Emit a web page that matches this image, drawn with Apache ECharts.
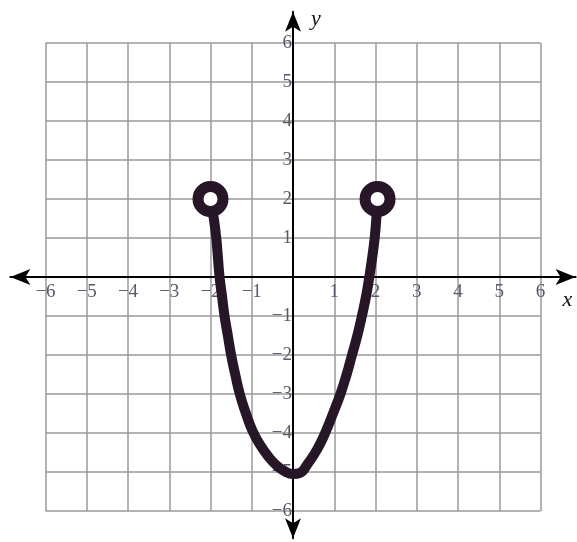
<!DOCTYPE html>
<html>
<head>
<meta charset="utf-8">
<script src="https://cdn.jsdelivr.net/npm/echarts@6/dist/echarts.min.js"></script>
<style>
  html, body { margin: 0; padding: 0; background: #fff; }
  #chart { width: 577px; height: 542px; }
</style>
</head>
<body>
<div id="chart"></div>
<script>
// hand-drawn curve, points
const curveX = [-2, -1.92, -1.86, -1.82, -1.78, -1.72, -1.66, -1.58, -1.5, -1.4, -1.29, -1.14, -0.98, -0.8, -0.6, -0.4, -0.2, 0, 0.17, 0.35, 0.54, 0.67, 0.78, 0.97, 1.15, 1.3, 1.43, 1.56, 1.67, 1.77, 1.85, 1.92, 1.98, 2.02, 2.05];
const curveY = [2, 1.5, 1, 0.5, 0, -0.5, -1, -1.5, -2, -2.5, -3, -3.5, -3.95, -4.3, -4.6, -4.83, -4.98, -5.05, -5.02, -4.8, -4.5, -4.25, -4, -3.5, -3, -2.5, -2, -1.5, -1, -0.5, 0, 0.5, 1, 1.5, 2];
// open endpoints
const openX = [-2, 2.05];
const openY = [2, 2];

const ink = '#271627';
const labelColor = '#555b6b';
const labelFont = 'Liberation Serif';

const minus = v => (v < 0 ? '\u2212' + Math.abs(v) : String(v));

const myChart = echarts.init(document.getElementById('chart'));

const option = {
  backgroundColor: '#fff',
  animation: false,
  grid: [
    { left: 45.5, right: 36.5, top: 43, bottom: 31 },
    { left: 10.4, right: 1.4, top: 11.8, bottom: 3.7 }
  ],
  xAxis: [
    {
      type: 'value', gridIndex: 0, min: -6, max: 6, interval: 1,
      position: 'bottom', offset: -234,
      axisLine: { show: false, onZero: false },
      axisTick: { show: false },
      splitLine: { show: true, lineStyle: { color: '#9a9a9a', width: 1.5 } },
      axisLabel: {
        margin: 6, fontFamily: labelFont, fontSize: 19, color: labelColor,
        formatter: v => (v === 0 ? '' : minus(v))
      }
    },
    {
      type: 'value', gridIndex: 1, min: -6.85, max: 6.85,
      axisLine: { show: true, onZero: true, symbol: ['arrow', 'arrow'], symbolSize: [12, 20], lineStyle: { color: '#000', width: 2 } },
      axisTick: { show: false }, axisLabel: { show: false }, splitLine: { show: false },
      name: 'x', nameLocation: 'end', nameGap: -13,
      nameTextStyle: { fontFamily: labelFont, fontStyle: 'italic', fontSize: 22, color: '#111', verticalAlign: 'top', align: 'left', padding: [12, 0, 0, 0] }
    }
  ],
  yAxis: [
    {
      type: 'value', gridIndex: 0, min: -6, max: 6, interval: 1,
      position: 'left', offset: -247.5,
      axisLine: { show: false, onZero: false },
      axisTick: { show: false },
      splitLine: { show: true, lineStyle: { color: '#9a9a9a', width: 1.5 } },
      axisLabel: {
        margin: 1, fontFamily: labelFont, fontSize: 19, color: labelColor,
        padding: [6, 0, 0, 0],
        formatter: v => (v === 0 ? '' : minus(v))
      }
    },
    {
      type: 'value', gridIndex: 1, min: -6.7, max: 6.8,
      axisLine: { show: true, onZero: true, symbol: ['arrow', 'arrow'], symbolSize: [12, 20], lineStyle: { color: '#000', width: 2 } },
      axisTick: { show: false }, axisLabel: { show: false }, splitLine: { show: false },
      name: 'y', nameLocation: 'end', nameGap: -18,
      nameTextStyle: { fontFamily: labelFont, fontStyle: 'italic', fontSize: 22, color: '#111', align: 'left', verticalAlign: 'bottom', padding: [0, 0, 0, 18] }
    }
  ],
  series: [
    {
      type: 'line', xAxisIndex: 0, yAxisIndex: 0,
      data: curveX.map((x, i) => [x, curveY[i]]),
      smooth: 0.5, showSymbol: false, z: 5,
      lineStyle: { color: ink, width: 10, cap: 'round', join: 'round' }
    },
    {
      type: 'scatter', xAxisIndex: 0, yAxisIndex: 0,
      data: openX.map((x, i) => [x, openY[i]]),
      symbol: 'circle', symbolSize: 25, z: 6,
      itemStyle: { color: '#fff', borderColor: ink, borderWidth: 11, opacity: 1 }
    }
  ]
};

myChart.setOption(option);
</script>
</body>
</html>
